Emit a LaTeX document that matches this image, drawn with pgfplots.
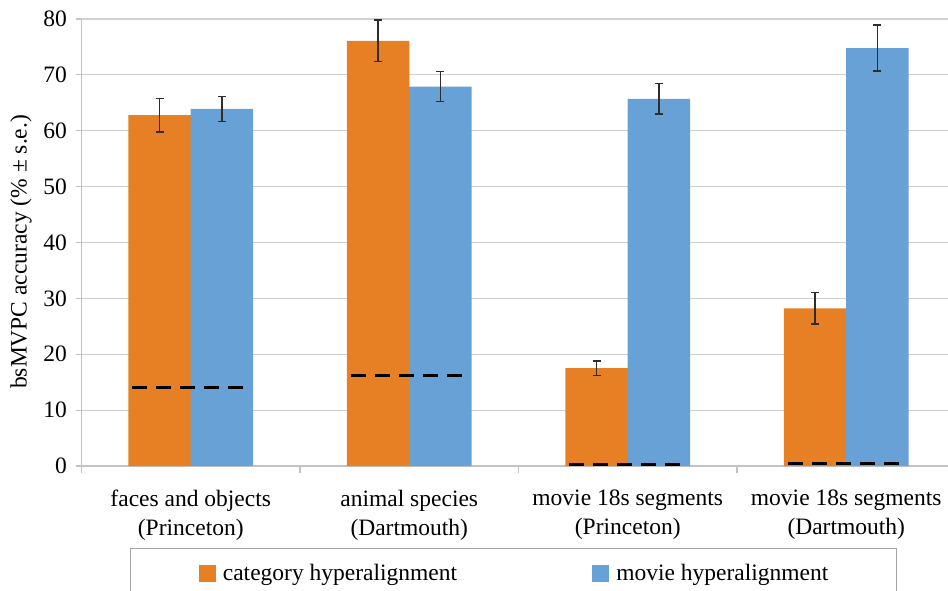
\documentclass[border=0pt]{standalone}
\usepackage{pgfplots}
\pgfplotsset{compat=1.18}
\usepackage{fontspec}
\setmainfont{Liberation Serif}
\definecolor{orangeC}{RGB}{231,128,36}
\definecolor{blueC}{RGB}{104,161,213}
\definecolor{gridC}{RGB}{208,208,208}
\definecolor{axC}{RGB}{195,195,195}
\definecolor{legC}{RGB}{165,165,165}
\definecolor{errC}{RGB}{45,45,45}
\begin{document}
\begin{tikzpicture}
\useasboundingbox (0,0) rectangle (948pt,590pt);
\clip (0,0) rectangle (948pt,590pt);
\begin{axis}[
  at={(81.5pt,124pt)}, anchor=south west,
  scale only axis, width=866.5pt, height=447pt,
  xmin=-0.5, xmax=3.4657, ymin=0, ymax=80,
  clip=false,
  ytick={0,10,...,80},
  xtick={0,1,2,3},
  xticklabels={{faces and objects\\(Princeton)},{animal species\\(Dartmouth)},{movie 18s segments\\(Princeton)},{movie 18s segments\\(Dartmouth)}},
  minor xtick={-0.5,0.5,1.5,2.5},
  axis x line*=bottom, axis y line*=left,
  axis line style={axC, line width=1.2pt, -},
  ymajorgrids, major grid style={gridC, line width=1.2pt},
  tick align=outside,
  major tick length=5pt, minor tick length=7pt,
  major x tick style={draw=none},
  minor x tick style={axC, line width=1.2pt},
  y tick style={axC, line width=1.2pt},
  /pgf/number format/assume math mode=true,
  tick label style={font=\fontsize{23.5}{29}\selectfont},
  xticklabel style={align=center, inner sep=0pt, anchor=north, yshift=-19pt},
  yticklabel style={inner sep=0pt, xshift=-9.5pt},
  ylabel={bsMVPC accuracy (\% ± s.e.)},
  ylabel style={font=\fontsize{23.5}{29}\selectfont, at={(axis description cs:-0.0698,0.479)}, anchor=center},
  legend columns=2,
  legend style={font=\fontsize{23.5}{29}\selectfont, at={(0.4986,-0.1834)}, anchor=north,
    draw=legC, line width=1.2pt, inner xsep=68pt, inner ysep=16pt,
    nodes={inner sep=0pt},
    /tikz/every odd column/.append style={column sep=7pt},
    /tikz/every even column/.append style={column sep=135pt}},
]
% bars placed at category +/- half bar width (0.143 axis units)
\addplot[ybar, bar width=62.5pt, bar shift=0pt, fill=orangeC, draw=none, forget plot,
  error bars/.cd, y dir=both, y explicit,
  error bar style={errC, line width=1.3pt},
  error mark options={errC, rotate=90, mark size=4pt, line width=1.3pt}]
  table[x=x, y=y, y error=e] {
x y e
-0.143 62.8 3.0
0.857 76.1 3.7
1.857 17.5 1.3
2.857 28.2 2.8
};
\addplot[ybar, bar width=62.5pt, bar shift=0pt, fill=blueC, draw=none, forget plot,
  error bars/.cd, y dir=both, y explicit,
  error bar style={errC, line width=1.3pt},
  error mark options={errC, rotate=90, mark size=4pt, line width=1.3pt}]
  table[x=x, y=y, y error=e] {
x y e
0.143 63.9 2.2
1.143 67.9 2.7
2.143 65.7 2.7
3.143 74.8 4.1
};
\addplot[black, line width=3pt, dash pattern=on 15pt off 9pt, forget plot] coordinates {(-0.267,14.1) (0.267,14.1)};
\addplot[black, line width=3pt, dash pattern=on 15pt off 9pt, forget plot] coordinates {(0.733,16.2) (1.267,16.2)};
\addplot[black, line width=3pt, dash pattern=on 15pt off 9pt, forget plot] coordinates {(1.733,0.3) (2.267,0.3)};
\addplot[black, line width=3pt, dash pattern=on 15pt off 9pt, forget plot] coordinates {(2.733,0.5) (3.267,0.5)};
\addlegendimage{legend image code/.code={\fill[orangeC] (0pt,-8pt) rectangle (16pt,8pt);}}
\addlegendentry{category hyperalignment}
\addlegendimage{legend image code/.code={\fill[blueC] (0pt,-8pt) rectangle (16pt,8pt);}}
\addlegendentry{movie hyperalignment}
\end{axis}
\end{tikzpicture}
\end{document}
